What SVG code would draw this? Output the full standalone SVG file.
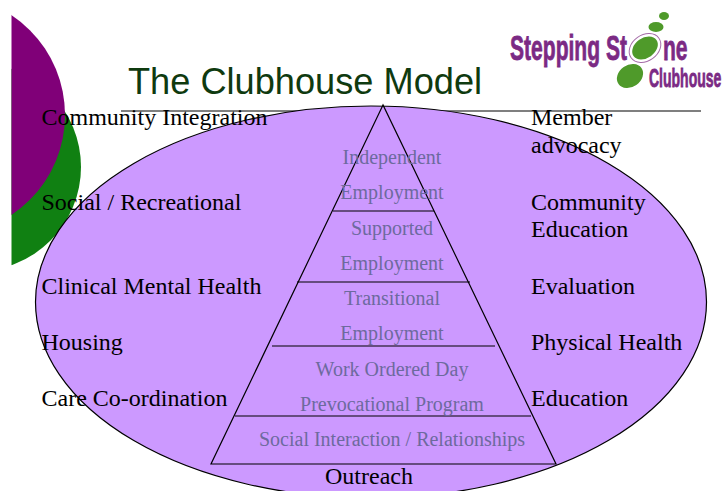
<svg xmlns="http://www.w3.org/2000/svg" width="723" height="491" viewBox="0 0 723 491">
<style>
.l{font:24px "Liberation Serif",serif;fill:#000}
.p{font:20px "Liberation Serif",serif;fill:#6d6a9e;text-anchor:middle}
.s{fill:none;stroke:#000;stroke-width:1.2}
.g{fill:#4f9a2a}
.b{font-family:"Liberation Sans",sans-serif;font-weight:700;fill:#7b2a84;stroke:#7b2a84;stroke-width:.8}
</style>
<defs><clipPath id="c"><rect x="11.5" y="0" width="200" height="300"/></clipPath></defs>
<g id="decor" clip-path="url(#c)">
<circle cx="-23" cy="167" r="104" fill="#108012"/>
<circle cx="-55" cy="115" r="120" fill="#800078"/>
</g>
<g id="title"><text x="128" y="94" font-family="'Liberation Sans',sans-serif" font-size="36.200" fill="#0f3a0f">The Clubhouse Model</text></g>
<g id="logo">
<text class="b" transform="translate(510 60) scale(.585 1)" font-size="36">Stepping St</text>
<text class="b" transform="translate(663 60) scale(.585 1)" font-size="36">ne</text>
<text class="b" transform="translate(649 86.500) scale(.56 1)" font-size="25">Clubhouse</text>
<ellipse cx="645" cy="48" rx="17" ry="13" fill="none" stroke="#a56ca8" transform="rotate(-35 645 48)"/>
<ellipse cx="645" cy="48" rx="14" ry="10" class="g" transform="rotate(-35 645 48)"/>
<ellipse cx="630" cy="76" rx="14" ry="11" class="g" transform="rotate(-35 630 76)"/>
<ellipse cx="656" cy="27" rx="7.500" ry="5" class="g"/>
<ellipse cx="664" cy="16" rx="5" ry="4" class="g"/>
</g>
<g id="rule"><line x1="121" y1="111" x2="701" y2="111" stroke="#000" stroke-width="1.2"/></g>
<g id="oval"><ellipse cx="371" cy="302" rx="335.500" ry="196" fill="#cc99ff" stroke="#000" stroke-width="1.2"/></g>
<g id="connectors">
<path class="s" d="M383 105L211 464H556Z"/>
<path class="s" d="M333 211H434M297 282H470M272 346H495M235 416H531"/>
</g>
<g id="pyramid-independent"><text class="p" x="392" y="163.500">Independent</text><text class="p" x="392" y="198.500">Employment</text></g>
<g id="pyramid-supported"><text class="p" x="392" y="234.500">Supported</text><text class="p" x="392" y="269.500">Employment</text></g>
<g id="pyramid-transitional"><text class="p" x="392" y="304.500">Transitional</text><text class="p" x="392" y="339.500">Employment</text></g>
<g id="pyramid-workday"><text class="p" x="392" y="375.500">Work Ordered Day</text><text class="p" x="392" y="410.500">Prevocational Program</text></g>
<g id="pyramid-social"><text class="p" x="392" y="445.500">Social Interaction / Relationships</text></g>
<g id="left-labels">
<text class="l" x="41.500" y="125">Community Integration</text>
<text class="l" x="41.500" y="210">Social / Recreational</text>
<text class="l" x="41.500" y="294">Clinical Mental Health</text>
<text class="l" x="41.500" y="350">Housing</text>
<text class="l" x="41.500" y="406">Care Co-ordination</text>
</g>
<g id="right-labels">
<text class="l" x="531" y="125">Member</text>
<text class="l" x="531" y="153">advocacy</text>
<text class="l" x="531" y="210">Community</text>
<text class="l" x="531" y="237">Education</text>
<text class="l" x="531" y="294">Evaluation</text>
<text class="l" x="531" y="350">Physical Health</text>
<text class="l" x="531" y="406">Education</text>
</g>
<g id="outreach"><text class="l" x="325" y="484">Outreach</text></g>
</svg>
